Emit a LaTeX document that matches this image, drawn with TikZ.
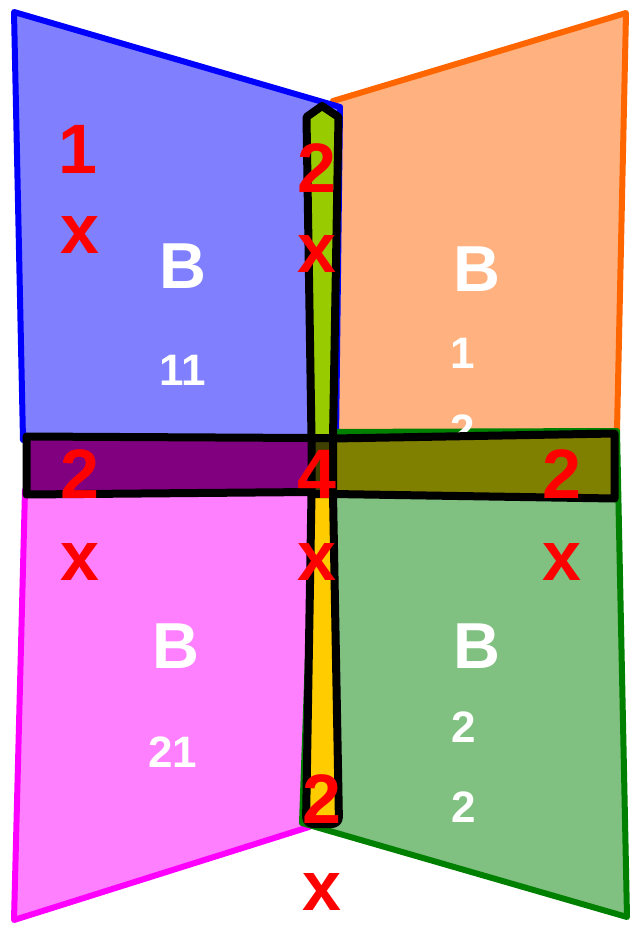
\documentclass[tikz,border=0pt]{standalone}
\usepackage{fontspec}
\setmainfont{Liberation Sans}
\begin{document}
\begin{tikzpicture}[x=1pt,y=-1pt,
  quad/.style={line width=6pt,line join=round},
  arm/.style={draw=black,line width=8pt,line join=round},
  redlbl/.style={text=red,font=\fontsize{70}{80}\selectfont\bfseries,anchor=base,inner sep=0pt},
  bigB/.style={text=white,font=\fontsize{65}{75}\selectfont\bfseries,anchor=base,inner sep=0pt},
  sub/.style={text=white,font=\fontsize{44}{50}\selectfont\bfseries,anchor=base,inner sep=0pt}]
\definecolor{qblue}{HTML}{8080FF}
\definecolor{sblue}{HTML}{0000FF}
\definecolor{qorange}{HTML}{FFB280}
\definecolor{sorange}{HTML}{FF6600}
\definecolor{qmag}{HTML}{FF80FF}
\definecolor{smag}{HTML}{FF00FF}
\definecolor{qgreen}{HTML}{80C080}
\definecolor{sgreen}{HTML}{008000}
\definecolor{vgreen}{HTML}{99CC00}
\definecolor{vyellow}{HTML}{FFCC00}
\definecolor{hpurple}{HTML}{800080}
\definecolor{holive}{HTML}{808000}
\definecolor{cdark}{HTML}{404000}
\definecolor{rred}{HTML}{FF0000}
\useasboundingbox (0,0) rectangle (630,926);
% quadrilaterals
\filldraw[quad,fill=qorange,draw=sorange] (333,101) -- (626,13) -- (617,431) -- (335,438) -- cycle;
\filldraw[quad,fill=qblue,draw=sblue] (14,12) -- (340,107) -- (336,440) -- (23,440) -- cycle;
\filldraw[quad,fill=qmag,draw=smag] (25,490) -- (312,490) -- (309,827) -- (14,920) -- cycle;
\filldraw[quad,fill=qgreen,draw=sgreen] (316,432) -- (617,431) -- (627,917) -- (302,823) -- cycle;
% white labels
\node[bigB] (b11) at (183,288) {B};
\node[sub] (s11) at (183,385) {11};
\node[bigB] (b12) at (477,291) {B};
\node[sub] (s12a) at (463,368) {1};
\node[sub] (s12b) at (463,445) {2};
\node[bigB] (b21) at (176,668) {B};
\node[sub] (s21) at (173,767) {21};
\node[bigB] (b22) at (477,668) {B};
\node[sub] (s22a) at (464,742) {2};
\node[sub] (s22b) at (464,822) {2};
% cross bars
\fill[cdark] (311,437) rectangle (333,494);
\filldraw[arm,fill=hpurple] (26.5,436.5) -- (311.5,438) -- (311.5,492) -- (26.5,494.5) -- cycle;
\filldraw[arm,fill=holive] (333,438.5) -- (614.5,433.5) -- (614.5,498.5) -- (333,494) -- cycle;
\filldraw[arm,fill=vgreen] (311.5,438) -- (306.5,117) -- (322,106) -- (338.5,117) -- (333,438) -- cycle;
\filldraw[arm,fill=vyellow] (311.5,494) -- (333,494) [rounded corners=7pt] -- (339,824) -- (306,824) [sharp corners] -- cycle;
% red labels
\node[redlbl] (r1) at (78,173) {1};
\node[redlbl] (rx1) at (80,253) {x};
\node[redlbl] (r2) at (317,192) {2};
\node[redlbl] (rx2) at (317,272) {x};
\node[redlbl] (r3) at (80,498) {2};
\node[redlbl] (r4) at (317,498) {4};
\node[redlbl] (r5) at (562,498) {2};
\node[redlbl] (rx3) at (80,580) {x};
\node[redlbl] (rx4) at (317,580) {x};
\node[redlbl] (rx5) at (562,580) {x};
\node[redlbl] (r6) at (322,823) {2};
\node[redlbl] (rx6) at (322,910) {x};
\end{tikzpicture}
\end{document}
